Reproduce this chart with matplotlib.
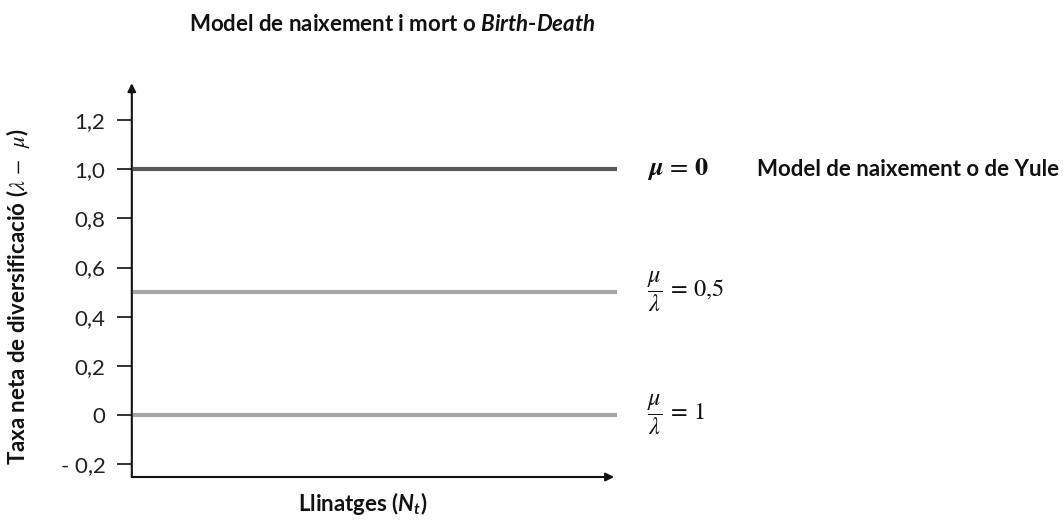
import matplotlib
matplotlib.use('Agg')
import matplotlib.pyplot as plt

plt.rcParams['font.family'] = ['Lato', 'DejaVu Sans']
# plain-text math (N_t, Birth-Death) in the same sans face
plt.rcParams['mathtext.fontset'] = 'custom'
plt.rcParams['mathtext.rm'] = 'Lato:bold'
plt.rcParams['mathtext.bf'] = 'Lato:bold'
plt.rcParams['mathtext.it'] = 'Lato:italic:bold'

# net diversification rate for each extinction scenario
rates = [1.0, 0.5, 0.0]
rate_colors = ['#595959', '#a6a6a6', '#a6a6a6']
rate_labels = [r'$\boldsymbol{\mu}\,=\,\mathbf{0}$',
               r'$\dfrac{\mu}{\lambda}\,=\,0{,}5$',
               r'$\dfrac{\mu}{\lambda}\,=\,1$']
rate_fsize = [19, 17.5, 17.5]

yticks = [-0.2, 0.0, 0.2, 0.4, 0.6, 0.8, 1.0, 1.2]
ytick_labels = ['- 0,2', '0', '0,2', '0,4', '0,6', '0,8', '1,0', '1,2']

ybot, ytop = -0.252, 1.35
ink = '#111111'

fig = plt.figure(figsize=(10.63, 5.2), dpi=100)
ax = fig.add_axes([0.124, 0.0827, 0.456, 0.7573])

for r, c in zip(rates, rate_colors):
    ax.plot([0.003, 1.0], [r, r], color=c, lw=3, solid_capstyle='butt')

ax.set_xlim(0, 1)
ax.set_ylim(ybot, ytop)
ax.set_xticks([])
ax.set_yticks(yticks)
ax.set_yticklabels(ytick_labels, fontsize=16, color='#222222')
ax.tick_params(axis='y', direction='out', length=11, width=1.3,
               color='#222222', pad=8)
for s in ax.spines.values():
    s.set_visible(False)

# axes drawn as arrows
arrow = dict(arrowstyle='-|>', color=ink, lw=1.5, mutation_scale=12,
             shrinkA=0, shrinkB=0)
ax.annotate('', xy=(0.995, ybot), xytext=(0, ybot), arrowprops=arrow,
            annotation_clip=False)
ax.annotate('', xy=(0, ytop), xytext=(0, ybot), arrowprops=arrow,
            annotation_clip=False)

# labels beside each line
for r, lab, fs in zip(rates, rate_labels, rate_fsize):
    ax.text(1.062, r, lab, fontsize=fs, va='center', ha='left', color=ink,
            math_fontfamily='stix', transform=ax.get_yaxis_transform())
ax.text(1.29, 1.0, 'Model de naixement o de Yule', fontsize=16,
        fontweight='bold', va='center', ha='left', color=ink,
        transform=ax.get_yaxis_transform())

fig.text(0.369, 0.952,
         r'Model de naixement i mort o $\mathit{Birth}$-$\mathit{Death}$',
         fontsize=16, fontweight='bold', ha='center', va='center', color=ink)
fig.text(0.341, 0.032, r'Llinatges ($N_t$)', fontsize=16,
         fontweight='bold', ha='center', va='center', color=ink)
fig.text(0.017, 0.43, r'Taxa neta de diversificació ($\lambda\,-\;\;\mu$)',
         fontsize=16, fontweight='bold', rotation=90, ha='center',
         va='center', color=ink, math_fontfamily='stix')

fig.savefig('out.png', dpi=100)
